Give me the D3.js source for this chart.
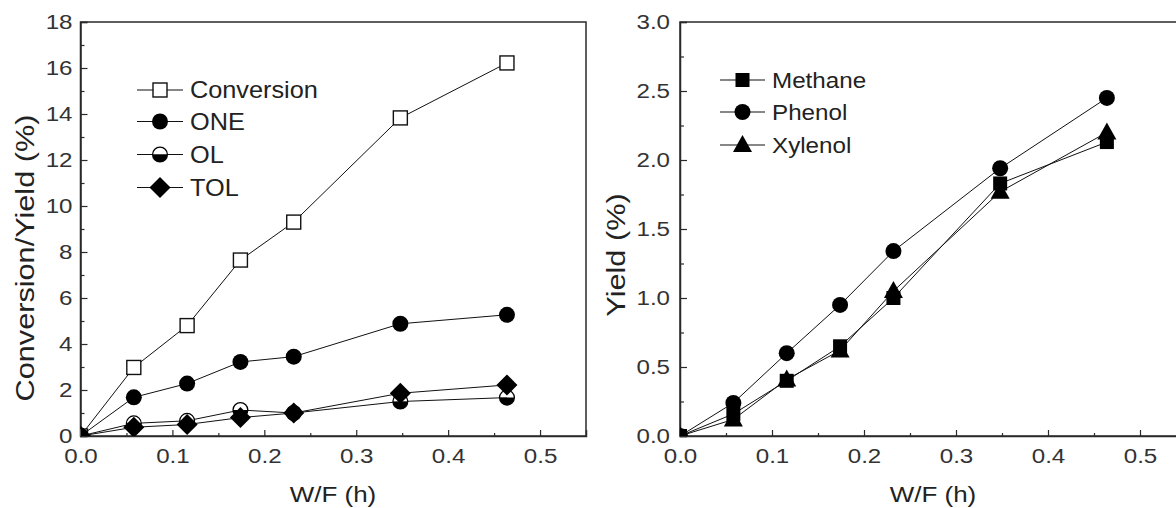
<!DOCTYPE html>
<html>
<head>
<meta charset="utf-8">
<script src="https://cdn.jsdelivr.net/npm/d3@7"></script>
<style>
  html, body { margin: 0; padding: 0; background: #fff; }
  svg { display: block; font-family: "Liberation Sans", Arial, sans-serif; }
  text { transform-box: fill-box; }
  .ytick text { transform-origin: right center; transform: scaleX(1.15); }
  .xtick text { transform-origin: center center; transform: scaleX(1.15); }
  .leg text { transform-origin: left center; transform: scaleX(1.1); }
  .title { transform-origin: center center; transform: scaleX(1.18); }
</style>
</head>
<body>
<svg id="chart" width="1176" height="508"></svg>
<script>
// ---------------- data ----------------
const wf = [0, 0.058, 0.116, 0.174, 0.232, 0.348, 0.464];
const conversion = [0, 2.98, 4.8, 7.65, 9.3, 13.83, 16.22];
const one = [0, 1.68, 2.28, 3.22, 3.45, 4.88, 5.27];
const ol = [0, 0.55, 0.66, 1.13, 1.0, 1.5, 1.67];
const tol = [0, 0.38, 0.5, 0.8, 1.0, 1.86, 2.22];

const methane = [0, 0.16, 0.4, 0.65, 1.0, 1.83, 2.13];
const phenol = [0, 0.24, 0.6, 0.95, 1.34, 1.94, 2.45];
const xylenol = [0, 0.12, 0.41, 0.62, 1.05, 1.77, 2.2];

const xTicks = [0, 0.1, 0.2, 0.3, 0.4, 0.5];
const xMinor = [0.05, 0.15, 0.25, 0.35, 0.45];
const yLeftTicks = [0, 2, 4, 6, 8, 10, 12, 14, 16, 18];
const yLeftMinor = [1, 3, 5, 7, 9, 11, 13, 15, 17];
const yRightTicks = [0, 0.5, 1.0, 1.5, 2.0, 2.5, 3.0];
const yRightMinor = [0.25, 0.75, 1.25, 1.75, 2.25, 2.75];

const leftSeries = [
  {name: "Conversion", values: conversion, marker: "openSquare"},
  {name: "ONE", values: one, marker: "circle"},
  {name: "OL", values: ol, marker: "halfCircle"},
  {name: "TOL", values: tol, marker: "diamond"}
];
const rightSeries = [
  {name: "Methane", values: methane, marker: "square"},
  {name: "Phenol", values: phenol, marker: "circle"},
  {name: "Xylenol", values: xylenol, marker: "triangle"}
];

// ---------------- drawing ----------------
const svg = d3.select("#chart");
const axisColor = "#2a2a2a";
const textColor = "#333";

function drawMarker(g, type, cx, cy) {
  const s = g.append("g").attr("transform", `translate(${cx},${cy})`);
  if (type === "openSquare") {
    s.append("rect").attr("x", -7).attr("y", -7).attr("width", 14).attr("height", 14)
      .attr("fill", "#fff").attr("stroke", "#111").attr("stroke-width", 1.4);
  } else if (type === "square") {
    s.append("rect").attr("x", -7).attr("y", -7).attr("width", 14).attr("height", 14)
      .attr("fill", "#000");
  } else if (type === "circle") {
    s.append("circle").attr("r", 8).attr("fill", "#000");
  } else if (type === "halfCircle") {
    s.append("path").attr("d", d3.arc()({innerRadius: 0, outerRadius: 7.4, startAngle: -Math.PI/2, endAngle: Math.PI/2}))
      .attr("fill", "#fff");
    s.append("path").attr("d", d3.arc()({innerRadius: 0, outerRadius: 7.4, startAngle: Math.PI/2, endAngle: 3*Math.PI/2}))
      .attr("fill", "#000");
    s.append("circle").attr("r", 7.4).attr("fill", "none").attr("stroke", "#000").attr("stroke-width", 1.3);
  } else if (type === "diamond") {
    s.append("path").attr("d", "M0,-10.5L10.5,0L0,10.5L-10.5,0Z").attr("fill", "#000");
  } else if (type === "triangle") {
    s.append("path").attr("d", "M0,-10L9.5,7L-9.5,7Z").attr("fill", "#000");
  }
}

function panel(cfg) {
  const x = d3.scaleLinear().domain([0, 0.55]).range(cfg.xRange);
  const y = d3.scaleLinear().domain(cfg.yDomain).range([436, 22]);
  const g = svg.append("g");
  const clipId = "clip" + cfg.id;
  svg.append("clipPath").attr("id", clipId).append("rect")
    .attr("x", cfg.xRange[0]).attr("y", 22)
    .attr("width", cfg.xRange[1] - cfg.xRange[0]).attr("height", 414);

  // frame
  g.append("rect").attr("x", cfg.xRange[0]).attr("y", 22)
    .attr("width", cfg.xRange[1] - cfg.xRange[0]).attr("height", 414)
    .attr("fill", "none").attr("stroke", axisColor).attr("stroke-width", 1.5);

  // axes
  const xa = g.append("g").attr("class", "xtick").attr("transform", "translate(0,436)")
    .call(d3.axisBottom(x).tickValues(xTicks).tickFormat(d3.format(".1f")).tickSize(-6).tickPadding(12));
  g.append("g").attr("transform", "translate(0,436)")
    .call(d3.axisBottom(x).tickValues(xMinor).tickFormat("").tickSize(-3))
    .call(s => s.select(".domain").remove());
  const ya = g.append("g").attr("class", "ytick").attr("transform", `translate(${cfg.xRange[0]},0)`)
    .call(d3.axisLeft(y).tickValues(cfg.yTicks).tickFormat(cfg.yFormat).tickSize(-7).tickPadding(cfg.yPad));
  g.append("g").attr("transform", `translate(${cfg.xRange[0]},0)`)
    .call(d3.axisLeft(y).tickValues(cfg.yMinor).tickFormat("").tickSize(-4))
    .call(s => s.select(".domain").remove());
  g.selectAll(".domain").attr("stroke", axisColor).attr("stroke-width", 1.5);
  g.selectAll(".tick line").attr("stroke", axisColor).attr("stroke-width", 1.2);
  g.selectAll(".tick text").attr("font-size", 21).attr("fill", textColor)
    .attr("font-family", "Liberation Sans, Arial, sans-serif");

  // titles
  g.append("text").attr("class", "title")
    .attr("x", cfg.xTitleX).attr("y", 502)
    .attr("text-anchor", "middle").attr("font-size", 22).attr("fill", "#222")
    .text("W/F (h)");
  g.append("g").attr("transform", `translate(${cfg.yTitleX},${cfg.yTitleY}) rotate(-90)`)
    .append("text").attr("class", "title")
    .attr("text-anchor", "middle").attr("dy", "0.35em").attr("font-size", cfg.yTitleSize).attr("fill", "#222")
    .text(cfg.yTitle);

  // data
  const plot = g.append("g").attr("clip-path", `url(#${clipId})`);
  const line = d3.line().x((d, i) => x(wf[i])).y(d => y(d));
  cfg.series.forEach(s => {
    plot.append("path").datum(s.values).attr("d", line)
      .attr("fill", "none").attr("stroke", "#111").attr("stroke-width", 1);
  });
  cfg.series.forEach(s => {
    s.values.forEach((v, i) => drawMarker(plot, s.marker, x(wf[i]), y(v)));
  });

  // legend
  const leg = g.append("g").attr("class", "leg");
  cfg.series.forEach((s, i) => {
    const ly = cfg.legY[i];
    leg.append("line").attr("x1", cfg.legX[0]).attr("x2", cfg.legX[1])
      .attr("y1", ly).attr("y2", ly).attr("stroke", "#111").attr("stroke-width", 1.2);
    drawMarker(leg, s.marker, (cfg.legX[0] + cfg.legX[1]) / 2, ly);
    leg.append("text").attr("x", cfg.legX[1] + 7).attr("y", ly).attr("dy", "0.35em")
      .attr("font-size", cfg.legSize).attr("fill", "#222").text(s.name);
  });
}

panel({
  id: "L", xRange: [80.5, 586], yDomain: [0, 18], yTicks: yLeftTicks, yMinor: yLeftMinor,
  yFormat: d3.format("d"), yPad: 8, series: leftSeries,
  xTitleX: 333, yTitleX: 25, yTitleY: 258, yTitle: "Conversion/Yield (%)", yTitleSize: 26,
  legX: [137, 183], legY: [90, 121.5, 154.5, 187.5], legSize: 23
});
panel({
  id: "R", xRange: [680, 1186], yDomain: [0, 3], yTicks: yRightTicks, yMinor: yRightMinor,
  yFormat: d3.format(".1f"), yPad: 10, series: rightSeries,
  xTitleX: 933, yTitleX: 616, yTitleY: 255, yTitle: "Yield (%)", yTitleSize: 26,
  legX: [720, 765], legY: [80, 112, 145], legSize: 22
});
</script>
</body>
</html>
